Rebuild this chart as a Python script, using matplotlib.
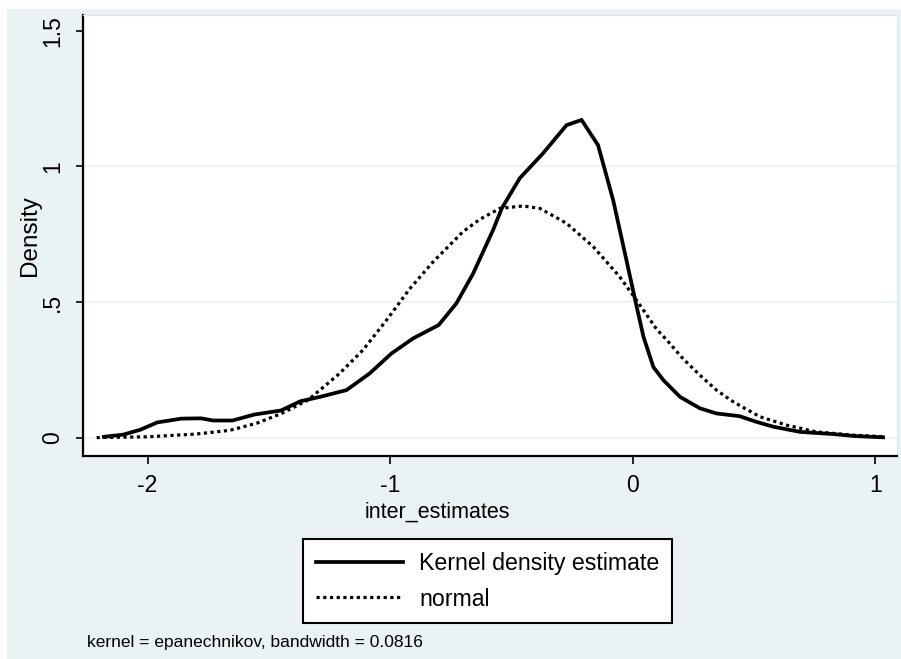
import matplotlib
matplotlib.use("Agg")
import matplotlib.pyplot as plt
from matplotlib.patches import Rectangle

plt.rcParams['font.family'] = ['Liberation Sans', 'DejaVu Sans']

# kernel density estimate
kde_x = [-2.18, -2.10, -2.03, -1.96, -1.86, -1.78, -1.73, -1.65, -1.56, -1.45,
         -1.37, -1.29, -1.18, -1.084, -0.995, -0.905, -0.80, -0.727, -0.658, -0.576,
         -0.540, -0.466, -0.37, -0.273, -0.211, -0.143, -0.081, -0.026, 0.01, 0.044,
         0.085, 0.126, 0.195, 0.277, 0.345, 0.44, 0.51, 0.58, 0.69, 0.826,
         0.91, 1.032]
kde_y = [0.003, 0.011, 0.029, 0.056, 0.070, 0.071, 0.063, 0.063, 0.085, 0.100,
         0.134, 0.150, 0.175, 0.237, 0.310, 0.366, 0.415, 0.495, 0.605, 0.765,
         0.845, 0.956, 1.048, 1.152, 1.171, 1.078, 0.876, 0.654, 0.507, 0.372,
         0.260, 0.212, 0.150, 0.108, 0.089, 0.079, 0.058, 0.040, 0.021, 0.013,
         0.006, 0.001]

# normal density overlay
norm_x = [-2.21, -2.0, -1.8, -1.66, -1.55, -1.45, -1.34, -1.29, -1.208, -1.112,
          -1.015, -0.92, -0.823, -0.70, -0.63, -0.548, -0.452, -0.383, -0.273, -0.163,
          -0.054, 0.015, 0.098, 0.14, 0.208, 0.277, 0.345, 0.414, 0.524, 0.634,
          0.757, 0.91, 1.04]
norm_y = [0.0, 0.003, 0.013, 0.027, 0.053, 0.088, 0.138, 0.175, 0.237, 0.323,
          0.433, 0.548, 0.648, 0.759, 0.805, 0.845, 0.854, 0.845, 0.790, 0.704,
          0.593, 0.507, 0.400, 0.360, 0.290, 0.230, 0.175, 0.132, 0.077, 0.046,
          0.021, 0.009, 0.003]

y_ticks = [0, 0.5, 1, 1.5]
y_labels = ['0', '.5', '1', '1.5']
x_ticks = [-2, -1, 0, 1]
x_labels = ['-2', '-1', '0', '1']

W, H = 901, 659
bg = '#eaf2f3'

fig = plt.figure(figsize=(W / 100, H / 100), dpi=100)
fig.patch.set_facecolor('white')
fig.patches.append(Rectangle((7 / W, 0), 1, 1 - 9 / H, transform=fig.transFigure,
                             facecolor=bg, edgecolor='none', zorder=-10))

ax = fig.add_axes([83.3 / W, 1 - 455.5 / H, (896.7 - 83.3) / W, (455.5 - 15) / H])
ax.set_facecolor('white')
ax.set_zorder(1)

for g in [0, 0.5, 1]:
    ax.axhline(g, color=bg, lw=1.3, zorder=0)

ax.plot(kde_x, kde_y, color='black', lw=2.7, solid_joinstyle='miter',
        label='Kernel density estimate', zorder=3)
ax.plot(norm_x, norm_y, color='black', lw=2.3, linestyle=(0, (1, 1.1)),
        label='normal', zorder=2)

ax.set_xlim(-2.265, 1.088)
ax.set_ylim(-0.066, 1.558)

ax.set_yticks(y_ticks)
ax.set_yticklabels(y_labels, rotation=90, va='center', fontsize=16.5)
ax.set_xticks(x_ticks)
ax.set_xticklabels(x_labels, fontsize=16.5)
ax.tick_params(axis='y', direction='out', length=5, width=1.2, pad=9)
ax.tick_params(axis='x', direction='out', length=6, width=1.2, pad=7)

for s in ['left', 'bottom']:
    ax.spines[s].set_linewidth(1.6)
    ax.spines[s].set_color('black')
for s in ['top', 'right']:
    ax.spines[s].set_color('#e2eaec')
    ax.spines[s].set_linewidth(1)

ax.set_ylabel('Density', fontsize=17.5, labelpad=0)
fig.text(437 / W, 1 - 512 / H, 'inter_estimates', fontsize=15.5, ha='center', va='center')

leg = fig.legend(loc='upper left', bbox_to_anchor=(303 / W, 1 - 539 / H),
                 fontsize=16.7, frameon=True, fancybox=False, edgecolor='black',
                 facecolor='white', framealpha=1, handlelength=3.75,
                 handletextpad=0.7, borderpad=0.55, labelspacing=0.55,
                 borderaxespad=0)
leg.get_frame().set_linewidth(1.5)

fig.text(87 / W, 1 - 642 / H, 'kernel = epanechnikov, bandwidth = 0.0816',
         fontsize=12.5, ha='left', va='center')

fig.savefig('out.png', dpi=100)
